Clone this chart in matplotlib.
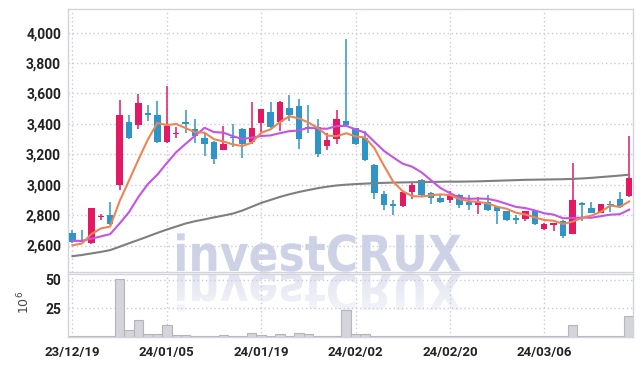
import numpy as np
import matplotlib
matplotlib.use("Agg")
import matplotlib.pyplot as plt
from matplotlib.textpath import TextPath
from matplotlib.font_manager import FontProperties
from matplotlib.patches import PathPatch
from matplotlib.transforms import Affine2D

plt.rcParams['font.family'] = ['Roboto', 'DejaVu Sans']

# trading days 23/12/19 .. 24/03/19, ticks every 10 sessions
tick_pos = [0, 10, 20, 30, 40, 50]
tick_labels = ['23/12/19', '24/01/05', '24/01/19', '24/02/02', '24/02/20', '24/03/06']

opens = [2680, 2635, 2615, 2785, 2800, 2995, 3410, 3395, 3470, 3455,
         3280, 3335, 3415, 3365, 3305, 3280, 3230, 3310, 3365, 3280,
         3405, 3475, 3410, 3505, 3520, 3380, 3380, 3255, 3300, 3420,
         3370, 3305, 3130, 2940, 2870, 2860, 2950, 3030, 2945, 2915,
         2900, 2935, 2885, 2865, 2885, 2855, 2825, 2780, 2775, 2825,
         2710, 2737, 2760, 2677, 2880, 2845, 2815, 2875, 2905, 2925]
highs = [2700, 2700, 2845, 2810, 2885, 3560, 3460, 3595, 3525, 3550,
         3650, 3380, 3490, 3435, 3340, 3285, 3385, 3400, 3370, 3545,
         3500, 3545, 3550, 3590, 3565, 3525, 3435, 3340, 3490, 3955,
         3375, 3355, 3135, 2960, 2900, 2960, 3010, 3035, 2950, 2935,
         2960, 2940, 2935, 2920, 2935, 2860, 2830, 2800, 2830, 2830,
         2745, 2748, 2765, 3145, 2885, 2885, 2872, 2895, 2955, 3320]
lows = [2615, 2620, 2610, 2770, 2735, 2965, 3300, 3365, 3420, 3275,
        3275, 3310, 3340, 3275, 3190, 3135, 3228, 3245, 3175, 3265,
        3345, 3375, 3355, 3420, 3235, 3340, 3185, 3230, 3265, 3390,
        3260, 3155, 2905, 2835, 2800, 2855, 2905, 2925, 2870, 2880,
        2880, 2850, 2835, 2810, 2830, 2740, 2760, 2740, 2760, 2738,
        2700, 2695, 2650, 2675, 2760, 2815, 2813, 2820, 2850, 2920]
closes = [2620, 2625, 2845, 2795, 2740, 3455, 3305, 3535, 3455, 3280,
          3385, 3340, 3400, 3320, 3265, 3170, 3265, 3305, 3265, 3375,
          3495, 3380, 3545, 3455, 3300, 3365, 3200, 3295, 3435, 3395,
          3265, 3160, 2945, 2865, 2860, 2955, 3000, 2930, 2910, 2885,
          2935, 2865, 2865, 2885, 2835, 2825, 2770, 2765, 2825, 2740,
          2740, 2745, 2660, 2900, 2865, 2815, 2870, 2865, 2855, 3045]

ma5 = [2602, 2613, 2675, 2712, 2725, 2892, 3028, 3166, 3298, 3406,
       3392, 3399, 3372, 3345, 3342, 3299, 3284, 3265, 3254, 3276,
       3341, 3364, 3412, 3450, 3435, 3409, 3373, 3323, 3319, 3338,
       3318, 3310, 3240, 3126, 3019, 2957, 2925, 2922, 2931, 2936,
       2932, 2905, 2892, 2887, 2877, 2855, 2842, 2816, 2804, 2785,
       2768, 2763, 2742, 2757, 2782, 2797, 2822, 2863, 2854, 2890]
ma10 = [2631, 2631, 2645, 2660, 2675, 2745, 2820, 2920, 3005, 3066,
        3142, 3214, 3269, 3322, 3374, 3346, 3342, 3319, 3300, 3309,
        3320, 3324, 3339, 3352, 3356, 3375, 3369, 3368, 3385, 3387,
        3364, 3342, 3282, 3223, 3179, 3138, 3118, 3081, 3029, 2978,
        2945, 2915, 2907, 2909, 2907, 2894, 2874, 2854, 2846, 2831,
        2812, 2803, 2779, 2781, 2784, 2783, 2793, 2803, 2806, 2836]
ma60 = [2530, 2538, 2548, 2558, 2570, 2592, 2615, 2637, 2660, 2683,
        2705, 2725, 2745, 2760, 2772, 2785, 2797, 2810, 2830, 2855,
        2880, 2900, 2920, 2937, 2952, 2965, 2977, 2987, 2995, 3000,
        3004, 3007, 3010, 3012, 3014, 3015, 3016, 3017, 3018, 3019,
        3020, 3020, 3021, 3022, 3024, 3026, 3028, 3030, 3032, 3033,
        3034, 3035, 3036, 3038, 3041, 3045, 3050, 3055, 3060, 3066]

# volume in millions of shares
volume = [0.2, 0.2, 0.6, 0.5, 0.5, 51.0, 5.6, 14.5, 2.4, 2.4,
          10.0, 1.5, 1.5, 0.5, 0.5, 0.6, 1.3, 0.6, 0.7, 3.0,
          1.5, 0.8, 2.1, 1.0, 3.0, 2.1, 0.6, 0.5, 0.8, 23.5,
          2.1, 2.1, 1.0, 0.5, 0.4, 0.5, 0.4, 0.3, 0.3, 0.3,
          0.8, 0.3, 0.3, 0.3, 0.3, 0.3, 0.3, 0.3, 0.3, 0.3,
          0.3, 0.3, 0.3, 10.3, 0.8, 0.8, 0.8, 0.3, 0.3, 18.3]

UP = '#e31a63'
DOWN = '#2f95c6'
GRID = '#c9cadc'
SPINE = '#d3d3dc'
WM = '#cdd2e7'

W, H = 642, 366
fig = plt.figure(figsize=(W / 100, H / 100), dpi=100)
fig.patch.set_facecolor('white')

# watermark layer (pixel coords, y up)
wm = fig.add_axes([0, 0, 1, 1], zorder=0)
wm.set_xlim(0, W)
wm.set_ylim(0, H)
wm.axis('off')
tp = TextPath((0, 0), "investCRUX", size=100,
              prop=FontProperties(family='DejaVu Sans', weight='bold'))
bb = tp.get_extents()
x0, x1 = 177, 461
base = H - 271.7
cap = 38.4
sx = (x1 - x0) / bb.width
sy = cap / bb.height
tr = Affine2D().translate(-bb.x0, -bb.y0).scale(sx, sy).translate(x0, base)
wm.add_patch(PathPatch(tr.transform_path(tp), facecolor=WM, edgecolor='none'))
rbase = H - 273.2
rtr = Affine2D().translate(-bb.x0, -bb.y0).scale(sx, -sy).translate(x0, rbase)
refl = PathPatch(rtr.transform_path(tp), facecolor='none', edgecolor='none')
wm.add_patch(refl)
grad = np.linspace(0.6, 0.2, 50).reshape(-1, 1)
img = wm.imshow(grad, extent=(x0 - 2, x1 + 2, rbase - cap - 2, rbase),
                cmap=matplotlib.colors.LinearSegmentedColormap.from_list(
                    'wm', ['#ffffff', WM]),
                vmin=0, vmax=1, aspect='auto', origin='upper')
img.set_clip_path(refl)

ax = fig.add_axes([68 / W, (H - 271.7) / H, 564.5 / W, (271.7 - 9.3) / H], zorder=1)
vax = fig.add_axes([68 / W, (H - 336.7) / H, 564.5 / W, (336.7 - 273.7) / H],
                   sharex=ax, zorder=1)
for a in (ax, vax):
    a.set_facecolor('none')
    for s in a.spines.values():
        s.set_color(SPINE)
        s.set_linewidth(1)
    a.tick_params(length=0, colors='#222222')
    a.grid(True, color=GRID, linestyle=(0, (1, 2)), linewidth=1)
    a.set_axisbelow(True)

x = np.arange(len(closes))
o = np.array(opens); c = np.array(closes)
h = np.array(highs); l = np.array(lows)
colors = [UP if cc >= oo else DOWN for oo, cc in zip(o, c)]
bottoms = np.minimum(o, c)
heights = np.maximum(np.abs(c - o), 7)
ax.vlines(x, l, h, colors=colors, linewidth=1.1, zorder=2)
ax.bar(x, heights, bottom=bottoms, width=0.68, color=colors, zorder=3)

ax.plot(x, ma60, color='#7f7f7f', linewidth=1.5, zorder=4)
ax.plot(x, ma10, color='#c653e6', linewidth=1.5, zorder=4)
ax.plot(x, ma5, color='#ee8452', linewidth=1.5, zorder=5)

ax.set_xlim(-0.47, 59.35)
ax.set_ylim(2428, 4153)
ax.set_yticks(np.arange(2600, 4001, 200))
ax.set_yticklabels([f'{v:,}' for v in range(2600, 4001, 200)],
                   fontsize=10, fontweight='bold')
ax.tick_params(axis='y', pad=5)
ax.tick_params(axis='x', labelbottom=False)

vax.bar(x, volume, width=1.0, color='#d4d4da', edgecolor='#b4b4bc', linewidth=0.8, zorder=2)
vax.set_ylim(0, 55.3)
vax.set_yticks([25, 50])
vax.set_yticklabels(['25', '50'], fontsize=10, fontweight='bold')
vax.tick_params(axis='y', pad=5)
vax.set_xticks(tick_pos)
vax.set_xticklabels(tick_labels, fontsize=9.5, fontweight='bold')
vax.tick_params(axis='x', pad=7)
vax.set_ylabel('$10^6$', fontsize=9, color='#444444')
vax.yaxis.set_label_coords(-0.064, 0.55)

fig.savefig('out.png', dpi=100)
